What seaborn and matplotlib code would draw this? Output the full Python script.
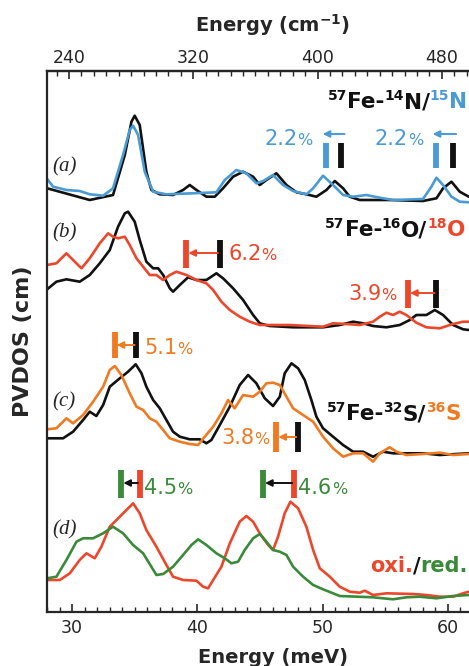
import numpy as np
import pandas as pd
import matplotlib
matplotlib.use("Agg")
import matplotlib.pyplot as plt
import seaborn as sns
from matplotlib.transforms import IdentityTransform
from matplotlib.ticker import MultipleLocator

# ---------------- data (energy in meV, PVDOS in arbitrary units, per panel) ----------------
# (a) 57Fe-14N / 15N
E_a_14N = [28.01, 31.41, 33.27, 34.21, 34.74, 35.00, 35.40, 35.93, 36.33, 37.00, 38.06, 38.86, 39.39,
           39.93, 40.72, 41.39, 42.05, 42.85, 43.65, 44.45, 44.98, 45.51, 46.31, 47.11, 47.91, 48.70,
           49.50, 50.30, 50.97, 51.63, 52.16, 52.96, 55.35, 58.01, 59.08, 59.61, 60.28, 60.94, 61.66]
V_a_14N = [13.7, 2.0, 7.0, 47.0, 80.3, 86.3, 77.0, 30.3, 12.0, 7.7, 7.0, 12.0, 17.0,
           12.0, 5.3, 5.3, 13.7, 25.3, 30.3, 25.3, 17.0, 22.0, 28.7, 17.0, 9.7, 7.7,
           5.3, 12.0, 21.0, 13.7, 5.3, 2.0, 2.0, 1.0, 3.7, 13.7, 20.3, 10.3, 5.3]
E_a_15N = [28.01, 28.49, 29.55, 30.61, 31.41, 32.48, 33.27, 34.07, 34.60, 34.87, 35.27, 35.80, 36.47,
           37.53, 39.66, 41.52, 42.19, 43.12, 43.91, 44.71, 45.25, 46.04, 46.84, 47.64, 48.70, 49.24,
           50.03, 50.83, 51.63, 52.43, 53.49, 54.56, 55.62, 58.01, 58.68, 59.08, 59.61, 60.28, 60.94, 61.66]
V_a_15N = [23.0, 15.3, 12.0, 11.0, 7.7, 6.3, 13.7, 47.0, 72.0, 76.3, 67.0, 30.3, 10.3,
           7.7, 8.7, 9.7, 22.0, 32.0, 28.7, 18.7, 21.0, 27.0, 17.0, 11.0, 7.7, 13.7,
           26.3, 17.0, 7.0, 5.3, 7.0, 4.3, 2.0, 3.0, 15.3, 24.3, 17.0, 5.3, 0.3, -0.3]

# (b) 57Fe-16O / 18O
E_b_16O = [28.01, 28.75, 29.55, 30.61, 31.41, 32.21, 33.01, 33.67, 34.21, 34.47, 35.00, 35.40, 35.93,
           36.47, 36.87, 37.27, 37.80, 38.06, 38.60, 39.26, 39.93, 40.72, 41.52, 42.05, 42.85, 43.65,
           44.45, 44.98, 45.78, 47.64, 50.03, 51.36, 52.43, 53.23, 54.02, 55.09, 56.15, 56.95, 57.48,
           58.28, 58.95, 59.61, 60.41, 61.21, 61.66]
V_b_16O = [39.7, 47.3, 49.7, 47.3, 54.0, 65.7, 79.0, 102.3, 115.7, 117.3, 107.3, 89.0, 67.3,
           60.7, 60.7, 54.0, 40.7, 37.3, 44.0, 51.7, 49.0, 49.0, 55.7, 50.7, 40.7, 29.0,
           14.0, 5.7, 3.0, 1.7, 1.7, 4.0, 7.3, 5.7, 3.0, 1.7, 4.0, 9.0, 14.0,
           14.0, 19.0, 14.0, 4.0, -0.3, -1.0]
E_b_18O = [28.01, 28.75, 29.55, 30.08, 30.75, 31.41, 32.21, 32.88, 33.27, 33.67, 34.21, 34.60, 35.14,
           35.67, 36.20, 36.73, 37.27, 37.80, 38.33, 39.13, 39.93, 40.72, 41.26, 41.92, 42.59, 43.38,
           44.18, 44.98, 47.37, 50.03, 50.83, 51.90, 52.96, 54.02, 54.56, 55.09, 55.62, 56.15, 56.68,
           57.48, 58.28, 59.35, 60.41, 61.21, 61.66]
V_b_18O = [64.0, 65.7, 75.7, 69.0, 60.7, 70.7, 85.7, 95.7, 92.3, 90.7, 92.3, 84.0, 70.7,
           62.3, 54.0, 54.0, 49.0, 54.0, 57.3, 54.0, 49.0, 45.7, 39.0, 27.3, 19.0, 12.3,
           7.3, 4.0, 4.0, 2.3, 5.7, 5.0, 4.0, 7.3, 12.3, 16.3, 14.0, 17.3, 14.0,
           6.3, 1.7, 0.7, 5.0, 7.3, 7.3]

# (c) 57Fe-32S / 36S
E_c_32S = [28.01, 29.28, 30.08, 30.88, 31.41, 31.94, 32.48, 33.01, 33.81, 34.47, 35.08, 35.54, 35.93,
           36.47, 37.00, 37.53, 38.06, 38.60, 39.39, 40.19, 40.72, 41.12, 41.79, 42.59, 43.38, 44.05,
           44.71, 45.38, 46.04, 46.58, 46.97, 47.51, 48.04, 48.57, 49.10, 49.50, 50.03, 50.83, 51.63,
           52.43, 53.23, 54.02, 54.82, 55.62, 58.01, 59.35, 60.68, 61.66]
V_c_32S = [16.7, 16.7, 23.3, 35.0, 43.3, 39.0, 50.0, 68.3, 76.7, 83.3, 90.7, 81.7, 68.3,
           55.0, 46.7, 35.0, 23.3, 18.3, 15.7, 15.7, 11.7, 15.0, 30.0, 48.3, 70.0, 80.0,
           71.7, 56.7, 49.0, 58.3, 81.7, 91.7, 86.7, 75.0, 55.0, 38.3, 26.7, 18.3, 10.0,
           3.3, 3.3, -1.7, 3.3, 1.7, 1.7, 0.0, 1.0, 1.7]
E_c_36S = [28.01, 28.75, 29.55, 30.08, 30.88, 31.68, 32.48, 33.01, 33.41, 33.94, 34.60, 35.14, 35.67,
           36.20, 36.73, 37.27, 37.80, 38.60, 39.39, 40.06, 40.59, 41.26, 41.92, 42.45, 42.98, 43.65,
           44.45, 44.98, 45.51, 46.04, 46.58, 47.11, 47.64, 48.44, 49.24, 50.03, 50.83, 51.63, 52.43,
           53.23, 54.02, 54.56, 55.35, 55.89, 56.68, 58.01, 59.35, 60.41, 61.66]
V_c_36S = [25.7, 26.7, 36.7, 31.7, 40.0, 53.3, 68.3, 85.0, 89.0, 80.0, 61.7, 48.3, 45.0,
           36.7, 33.3, 25.0, 16.7, 13.3, 11.0, 10.0, 18.3, 28.3, 41.7, 55.0, 46.7, 60.0,
           58.3, 63.3, 71.7, 72.3, 70.0, 58.3, 46.7, 40.0, 33.3, 18.3, 6.7, -1.7, 1.7,
           1.7, -6.7, 1.7, 7.7, 3.3, 0.0, 1.0, 2.3, 0.0, 1.0]

# (d) oxidized / reduced
E_d_oxi = [28.01, 29.02, 29.82, 30.61, 31.15, 31.81, 32.34, 33.01, 33.81, 34.34, 34.87, 35.40, 35.93,
           36.73, 37.53, 38.06, 38.86, 39.93, 40.46, 40.86, 41.26, 41.92, 42.59, 43.38, 43.91, 44.45,
           44.98, 45.65, 46.04, 46.44, 46.97, 47.43, 48.04, 48.70, 49.24, 49.77, 50.57, 51.36, 52.16,
           52.96, 53.36, 54.02, 55.09, 57.22, 58.28, 59.35, 60.41, 61.21, 61.66]
V_d_oxi = [19.0, 19.0, 25.7, 39.0, 45.7, 40.7, 52.3, 72.3, 82.3, 89.0, 95.7, 85.7, 69.0,
           52.3, 34.0, 22.3, 19.0, 18.3, 12.3, 10.7, 19.0, 32.3, 55.7, 77.3, 83.0, 77.3,
           65.7, 54.0, 49.0, 62.3, 85.7, 97.3, 90.7, 72.3, 49.0, 30.7, 22.3, 12.3, 7.3,
           6.3, 8.3, 4.0, 5.7, 5.0, 4.0, 2.3, 2.3, 5.7, 7.3]
E_d_red = [28.01, 28.75, 29.55, 30.35, 30.88, 31.68, 32.48, 33.27, 34.07, 34.87, 35.67, 36.33, 36.73,
           37.27, 38.06, 38.86, 39.53, 40.06, 40.72, 41.52, 42.19, 42.72, 43.25, 43.78, 44.45, 44.98,
           45.51, 46.04, 46.58, 47.11, 47.64, 48.44, 49.24, 50.03, 50.83, 51.36, 54.02, 55.62, 56.68,
           57.75, 59.08, 60.41, 61.66]
V_d_red = [20.7, 22.3, 39.0, 57.3, 60.7, 60.7, 65.7, 72.3, 65.7, 54.0, 45.7, 32.3, 24.0,
           25.0, 32.3, 44.0, 54.0, 59.7, 54.0, 45.7, 40.7, 35.7, 37.3, 49.0, 60.7, 65.0,
           57.3, 49.0, 47.3, 44.0, 32.3, 22.3, 14.0, 9.7, 5.7, 3.0, 1.7, -0.3, 1.7,
           2.3, 0.7, 3.0, 4.0]

# vertical offsets of the stacked spectra
panel_offsets = [410, 283, 157, 13]

# isotope / redox shifts: reference peak, shifted peak (meV), shift labels (%)
shift_a_ref = [51.50, 60.41]
shift_a_new = [50.30, 59.08]
shift_a_pct = ["2.2", "2.2"]
shift_b_ref = [41.79, 59.08]
shift_b_new = [39.13, 56.82]
shift_b_pct = ["6.2", "3.9"]
shift_c_ref = [35.14, 48.04]
shift_c_new = [33.41, 46.31]
shift_c_pct = ["5.1", "3.8"]
shift_d_ref = [35.40, 47.72]
shift_d_new = [33.94, 45.25]
shift_d_pct = ["4.5", "4.6"]

bottom_ticks = [30, 40, 50, 60]
top_ticks = [240, 320, 400, 480]
MEV_TO_CM = 8.0655

# ---------------- style ----------------
BLUE = "#4a9ad4"
RED = "#ec472b"
ORANGE = "#f07a22"
GREEN = "#3a8a3a"
BLACK = "#111111"

sns.set_style("ticks")
plt.rcParams['font.family'] = ['DejaVu Sans']

W, H, DPI = 469, 666, 100
fig = plt.figure(figsize=(W / DPI, H / DPI), dpi=DPI)
x0_px, pxmev = 47, 12.53
xmin, xmax = 28.0, 64.0
ax = fig.add_axes([x0_px / W, 54 / H, (xmax - xmin) * pxmev / W, 541 / H])
ax.set_xlim(xmin, xmax)
ax.set_ylim(0, 541)

curves = [
    (E_a_14N, V_a_14N, 0, BLACK), (E_a_15N, V_a_15N, 0, BLUE),
    (E_b_16O, V_b_16O, 1, BLACK), (E_b_18O, V_b_18O, 1, RED),
    (E_c_32S, V_c_32S, 2, BLACK), (E_c_36S, V_c_36S, 2, ORANGE),
    (E_d_oxi, V_d_oxi, 3, RED), (E_d_red, V_d_red, 3, GREEN),
]
for E, V, p, col in curves:
    df = pd.DataFrame({"E": E, "V": np.asarray(V) + panel_offsets[p]})
    sns.lineplot(data=df, x="E", y="V", color=col, lw=1.9, ax=ax, sort=False,
                 estimator=None)

ax.spines["right"].set_visible(False)
for s in ["left", "bottom", "top"]:
    ax.spines[s].set_linewidth(1.6)
ax.set_yticks([])
ax.set_ylabel("PVDOS (cm)", fontsize=16, fontweight="bold", labelpad=10)
ax.set_xlabel("Energy (meV)", fontsize=14, fontweight="bold", labelpad=8)
ax.set_xticks(bottom_ticks)
ax.xaxis.set_minor_locator(MultipleLocator(1))
ax.tick_params(axis="x", which="major", direction="in", length=6, width=1.2,
               labelsize=12.5, pad=5, top=False)
ax.tick_params(axis="x", which="minor", direction="in", length=3.5, width=1.0, top=False)

sec = ax.secondary_xaxis("top", functions=(lambda e: e * MEV_TO_CM, lambda w: w / MEV_TO_CM))
sec.set_xticks(top_ticks)
sec.xaxis.set_minor_locator(MultipleLocator(8))
sec.tick_params(axis="x", which="major", direction="in", length=6, width=1.2, labelsize=12.5, pad=3)
sec.tick_params(axis="x", which="minor", direction="in", length=3.5, width=1.0)
sec.spines["top"].set_linewidth(1.6)
sec.set_xlabel(r"Energy (cm$^{\mathbf{-1}}$)", fontsize=14, fontweight="bold", labelpad=12)

renderer = fig.canvas.get_renderer()


def rich(x, y, parts, ha="left"):
    """parts: (text, color, size, raise_px, weight)"""
    X0, Y0 = ax.transData.transform((x, y))
    cx = X0
    texts = []
    for s, col, size, dy, wt in parts:
        t = ax.text(cx, Y0 + dy, s, transform=IdentityTransform(), color=col,
                    fontsize=size, fontweight=wt, va="baseline", ha="left")
        bb = t.get_window_extent(renderer)
        cx = bb.x1
        texts.append(t)
    if ha == "right":
        w = cx - X0
        for t in texts:
            px, py = t.get_position()
            t.set_position((px - w, py))


def title(x, y, parts, size=15.5):
    out = []
    for s, col, sup in parts:
        if sup:
            out.append((s, col, 10, 8, "bold"))
        else:
            out.append((s, col, size, 0, "bold"))
    rich(x, y, out)


def pct(x, y, num, col, ha):
    rich(x, y, [(num, col, 15, 0, "normal"), ("%", col, 11.5, 0, "normal")], ha=ha)


def bar(x, y0, y1, col):
    ax.plot([x, x], [y0, y1], color=col, lw=4.2, solid_capstyle="butt")


def arrow(x_from, x_to, y, col):
    ax.annotate("", xy=(x_to, y), xytext=(x_from, y),
                arrowprops=dict(arrowstyle="-|>", color=col, lw=1.4,
                                mutation_scale=10, shrinkA=0, shrinkB=0))


# panel labels
for lab, yy in zip(["(a)", "(b)", "(c)", "(d)"], [445, 379, 210, 82]):
    ax.text(28.45, yy, lab, family="Liberation Serif", style="italic", fontsize=15,
            va="center", ha="left")

# (a) markers
oa = panel_offsets[0]
for r, n, p, lx in zip(shift_a_ref, shift_a_new, shift_a_pct, [49.2, 58.0]):
    bar(r, oa + 34, oa + 59, BLACK)
    bar(n, oa + 34, oa + 59, BLUE)
    arrow(r + 0.25, n - 0.3, oa + 68, BLUE)
    pct(lx, oa + 57, p, BLUE, "right")

# (b) markers
ob = panel_offsets[1]
for (r, n, p), (yb, yt, ya, yl), (lx, ha) in zip(
        zip(shift_b_ref, shift_b_new, shift_b_pct),
        [(61, 89, 76, 69), (21, 49, 36, 29)],
        [(42.45, "left"), (55.9, "right")]):
    bar(r, ob + yb, ob + yt, BLACK)
    bar(n, ob + yb, ob + yt, RED)
    arrow(r - 0.15, n + 0.15, ob + ya, RED)
    pct(lx, ob + yl, p, RED, ha)

# (c) markers
oc = panel_offsets[2]
for (r, n, p), (yb, yt, ya, yl), (lx, ha) in zip(
        zip(shift_c_ref, shift_c_new, shift_c_pct),
        [(97, 123, 110, 101), (3, 33, 18, 11)],
        [(35.75, "left"), (45.77, "right")]):
    bar(r, oc + yb, oc + yt, BLACK)
    bar(n, oc + yb, oc + yt, ORANGE)
    arrow(r - 0.15, n + 0.15, oc + ya, ORANGE)
    pct(lx, oc + yl, p, ORANGE, ha)

# (d) markers
od = panel_offsets[3]
for r, n, p in zip(shift_d_ref, shift_d_new, shift_d_pct):
    bar(r, od + 101, od + 129, RED)
    bar(n, od + 101, od + 129, GREEN)
    arrow(r - 0.15, n + 0.15, od + 116, BLACK)
    pct(r + 0.35, od + 105, p, GREEN, "left")

# titles
title(50.4, 504, [("57", BLACK, True), ("Fe-", BLACK, False), ("14", BLACK, True),
                  ("N/", BLACK, False), ("15", BLUE, True), ("N", BLUE, False)])
title(50.2, 376, [("57", BLACK, True), ("Fe-", BLACK, False), ("16", BLACK, True),
                  ("O/", BLACK, False), ("18", RED, True), ("O", RED, False)])
title(50.3, 192, [("57", BLACK, True), ("Fe-", BLACK, False), ("32", BLACK, True),
                  ("S/", BLACK, False), ("36", ORANGE, True), ("S", ORANGE, False)])
title(53.75, 40, [("oxi.", RED, False), ("/", BLACK, False), ("red.", GREEN, False)], size=15)

fig.savefig("out.png", dpi=DPI)
